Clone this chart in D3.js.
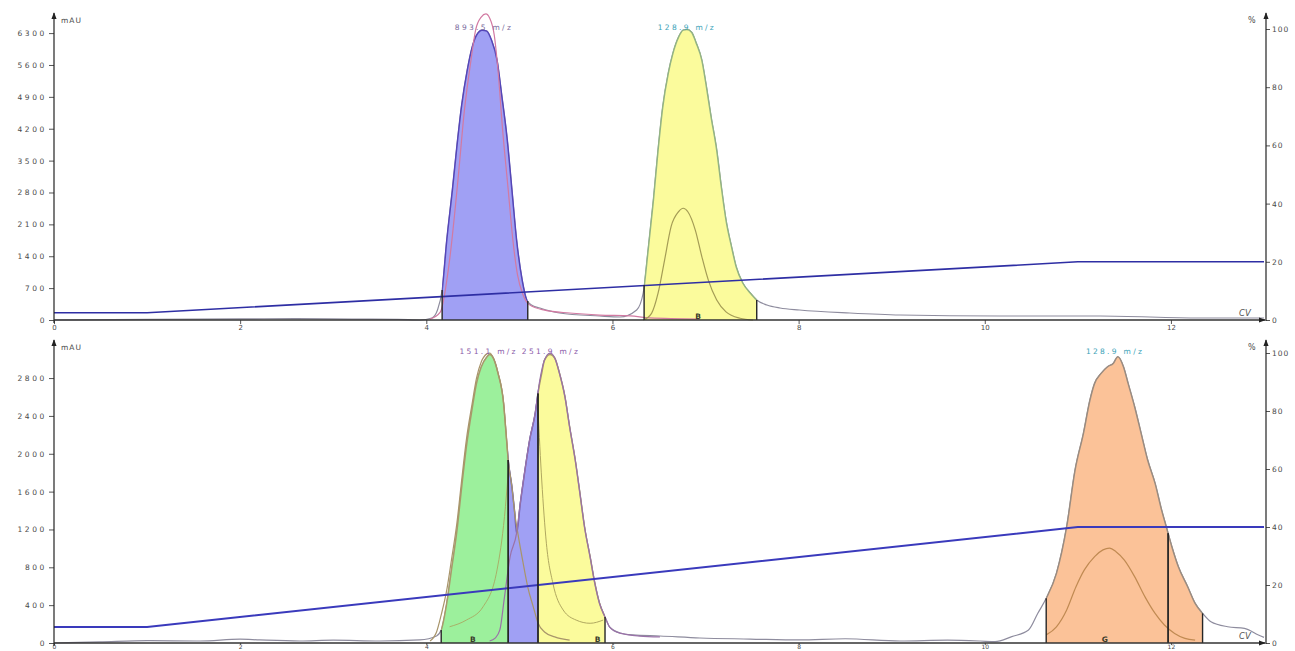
<!DOCTYPE html>
<html>
<head>
<meta charset="utf-8">
<script src="https://d3js.org/d3.v7.min.js"></script>
<style>
  body { margin: 0; background: #fff; }
  svg text { font-family: "DejaVu Sans", sans-serif; }
</style>
</head>
<body>
<svg id="chart" width="1295" height="651"></svg>
<script>
// shared time axis (min)
const xTicks = [0, 2, 4, 6, 8, 10, 12];
const pctTicks = [0, 20, 40, 60, 80, 100];

// ---------- top run ----------
const topMauTicks = [0, 700, 1400, 2100, 2800, 3500, 4200, 4900, 5600, 6300];
// UV trace, [min, mAU]
const topUV = [[0,0],[1.0,15],[2.0,25],[2.6,30],[3.2,20],[3.7,15],[3.93,0],[4.06,44],[4.12,220],[4.17,658],
  [4.22,1756],[4.28,2853],[4.33,3841],[4.38,4719],[4.44,5487],[4.49,5970],[4.54,6255],[4.60,6365],[4.65,6343],
  [4.70,6146],[4.76,5707],[4.81,4939],[4.87,3951],[4.92,2853],[4.97,1756],[5.03,878],[5.08,439],[5.13,329],
  [5.22,263],[5.43,154],[5.86,88],[6.08,66],[6.26,220],[6.33,593],[6.38,1471],[6.44,2634],[6.49,3731],[6.54,4675],
  [6.60,5421],[6.65,5860],[6.71,6211],[6.76,6365],[6.80,6380],[6.85,6321],[6.90,6080],[6.96,5707],[7.01,5114],
  [7.06,4456],[7.12,3731],[7.17,2919],[7.22,2195],[7.28,1602],[7.33,1163],[7.40,812],[7.48,593],[7.55,439],
  [7.66,329],[7.80,263],[8.01,220],[8.55,154],[9.09,110],[10.16,88],[11.24,88],[12.31,44],[13,44]];
// 893.5 m/z trace, [min, %]
const topMs893 = [[4.04,0.3],[4.15,2.7],[4.25,20.6],[4.34,48.1],[4.41,72.2],[4.48,89.3],[4.53,99.7],[4.59,104.1],
  [4.64,105.2],[4.68,103.8],[4.73,97.9],[4.77,85.9],[4.82,65.3],[4.88,44.7],[4.93,27.5],[4.98,15.5],[5.04,8.6],
  [5.11,5.2],[5.27,3.4],[5.54,2.4],[5.86,1.7],[6.19,1.4],[6.40,0.7],[6.94,0.3]];
// second trace under the 128.9 peak, [min, %]
const topInner = [[6.33,0],[6.42,2.3],[6.49,9.2],[6.56,20.6],[6.63,32.1],[6.71,37.2],[6.76,38.4],[6.81,37.2],
  [6.89,30.9],[6.96,21.8],[7.03,13.7],[7.12,6.9],[7.22,2.8],[7.37,0.6],[7.51,0]];
const topGradient = [[0,2.5],[1,2.5],[11,20],[13,20]];
const topFractions = [[4.17,5.09],[6.34,7.55]];
const topMzLabels = ["893.5 m/z", "128.9 m/z"];
const topMzAt = [4.62, 6.80];
const topMarks = ["B"];
const topMarkAt = [6.92];

// ---------- bottom run ----------
const botMauTicks = [0, 400, 800, 1200, 1600, 2000, 2400, 2800];
const botUV = [[0,0],[0.49,11],[1.0,25],[1.57,21],[2.0,40],[2.21,32],[2.64,21],[3.0,30],[3.5,21],[3.93,32],
  [4.11,74],[4.16,137],[4.22,423],[4.27,771],[4.33,1194],[4.38,1648],[4.43,2071],[4.49,2462],[4.54,2747],
  [4.59,2916],[4.65,3022],[4.68,3050],[4.72,3011],[4.77,2853],[4.83,2536],[4.86,2177],[4.88,1934],[4.92,1648],
  [4.95,1374],[4.97,1159],[5.01,1476],[5.06,1828],[5.11,2145],[5.17,2427],[5.20,2638],[5.24,2850],[5.27,2990],
  [5.33,3050],[5.38,3011],[5.43,2853],[5.49,2599],[5.54,2282],[5.60,1934],[5.65,1585],[5.70,1226],[5.76,909],
  [5.81,634],[5.86,423],[5.92,275],[5.97,169],[6.08,106],[6.22,85],[6.51,74],[6.94,53],[7.48,42],[8.01,32],
  [8.5,45],[9.09,21],[9.6,30],[9.95,21],[10.11,14],[10.29,67],[10.47,137],[10.57,314],[10.66,472],[10.77,736],
  [10.88,1229],[10.97,1828],[11.06,2216],[11.13,2568],[11.18,2744],[11.25,2850],[11.32,2920],[11.38,2955],
  [11.43,3025],[11.49,2920],[11.54,2744],[11.61,2497],[11.68,2216],[11.75,1934],[11.83,1687],[11.90,1405],
  [11.95,1229],[12.01,1018],[12.08,806],[12.18,595],[12.26,419],[12.34,314],[12.43,225],[12.61,172],
  [12.79,155],[12.94,85],[13,60]];
const botMs151 = [[4.04,0.7],[4.11,3.8],[4.16,9.7],[4.22,18.3],[4.27,28.6],[4.33,41.7],[4.38,56.2],[4.43,70.0],
  [4.49,82.1],[4.54,91.4],[4.59,96.9],[4.65,99.7],[4.68,100],[4.72,98.3],[4.77,93.1],[4.83,82.8],[4.86,71.0],
  [4.88,63.1],[4.92,53.8],[4.95,44.8],[4.99,36.6],[5.04,27.6],[5.09,19.3],[5.15,12.4],[5.20,6.9],[5.27,3.8],
  [5.38,2.1],[5.54,1.0]];
const botMs251 = [[4.68,0.7],[4.74,1.7],[4.79,4.5],[4.84,15.9],[4.90,29.7],[4.97,37.9],[5.01,48.3],[5.06,59.7],
  [5.11,70.0],[5.17,79.3],[5.22,90.7],[5.27,97.6],[5.33,100],[5.38,98.3],[5.43,93.1],[5.49,84.8],[5.54,74.5],
  [5.60,63.1],[5.65,51.7],[5.70,40.0],[5.76,29.7],[5.81,20.7],[5.86,13.8],[5.92,9.0],[5.97,5.5],[6.08,3.4],
  [6.29,2.4],[6.51,2.1]];
const botInnerA = [[4.25,5.6],[4.43,7.9],[4.61,12.5],[4.76,25.2],[4.84,43.6],[4.88,58.5]];
const botInnerB = [[5.20,80.3],[5.24,56.2],[5.29,34.4],[5.36,20.6],[5.47,11.4],[5.61,7.9],[5.76,6.8],[5.90,7.9]];
const botInnerC = [[10.66,2.8],[10.77,5.6],[10.88,11.4],[10.98,19.4],[11.07,25.2],[11.18,29.8],[11.27,32.1],
  [11.34,32.7],[11.41,31.5],[11.50,28.6],[11.61,22.9],[11.72,16.0],[11.83,10.2],[11.93,6.2],[12.04,3.3],
  [12.15,1.6],[12.26,1.0]];
const botGradient = [[0,5.5],[1,5.5],[11,40],[13,40]];
const botFractions = [[4.16,4.88],[4.88,5.20],[5.20,5.92],[10.66,11.97],[11.97,12.34]];
const botMzLabels = ["151.1 m/z", "251.9 m/z", "128.9 m/z"];
const botMzAt = [4.67, 5.34, 11.40];
const botMarks = ["B", "B", "G"];
const botMarkAt = [4.50, 5.84, 11.29];

// ---------- drawing ----------
const svg = d3.select("#chart");
svg.append("rect").attr("width", 1295).attr("height", 651).attr("fill", "#fff");
const defs = svg.append("defs");
defs.append("marker").attr("id", "arrow").attr("viewBox", "0 0 8 8")
  .attr("refX", 7).attr("refY", 4).attr("markerWidth", 7).attr("markerHeight", 7)
  .attr("markerUnits", "userSpaceOnUse").attr("orient", "auto")
  .append("path").attr("d", "M0,1 L8,4 L0,7 Z").attr("fill", "#222");

const x = d3.scaleLinear().domain([0, 13]).range([54, 1264]);
const xRight = 1266;

function valueAt(data, t) {
  const i = d3.bisector(d => d[0]).left(data, t);
  if (i <= 0) return data[0][1];
  if (i >= data.length) return data[data.length - 1][1];
  const a = data[i - 1], b = data[i];
  return a[1] + (b[1] - a[1]) * (t - a[0]) / (b[0] - a[0]);
}

function drawPanel(p) {
  const g = svg.append("g");
  const yL = d3.scaleLinear().domain([0, p.mauMax]).range([p.y0, p.y100]);
  const yR = d3.scaleLinear().domain([0, 100]).range([p.y0, p.y100]);

  const lineL = d3.line().x(d => x(d[0])).y(d => yL(d[1])).curve(d3.curveMonotoneX);
  const lineR = d3.line().x(d => x(d[0])).y(d => yR(d[1])).curve(d3.curveMonotoneX);
  const areaL = d3.area().x(d => x(d[0])).y0(p.y0).y1(d => yL(d[1])).curve(d3.curveMonotoneX);

  // uv trace (grey) under everything
  g.append("path").datum(p.uv).attr("d", lineL)
    .attr("fill", "none").attr("stroke", "#8e8c9e").attr("stroke-width", 1.2);

  // collected fractions
  p.fractions.forEach((f, i) => {
    const id = "clip-" + p.id + "-" + i;
    defs.append("clipPath").attr("id", id).append("rect")
      .attr("x", x(f[0])).attr("y", 0)
      .attr("width", x(f[1]) - x(f[0])).attr("height", p.y0 + 0.5);
    g.append("path").datum(p.uv).attr("d", areaL)
      .attr("fill", p.fills[i]).attr("clip-path", "url(#" + id + ")");
    g.append("path").datum(p.uv).attr("d", lineL)
      .attr("fill", "none").attr("stroke", p.edges[i]).attr("stroke-width", 1.5)
      .attr("clip-path", "url(#" + id + ")");
  });

  // mass traces
  p.ms.forEach((s, i) => {
    g.append("path").datum(s).attr("d", lineR)
      .attr("fill", "none").attr("stroke", p.msColors[i]).attr("stroke-width", p.msWidths[i]);
  });

  // solvent gradient
  g.append("path").datum(p.gradient).attr("d", d3.line().x(d => x(d[0])).y(d => yR(d[1])))
    .attr("fill", "none").attr("stroke", p.gradColor).attr("stroke-width", p.gradWidth);

  // fraction boundaries
  p.fractions.forEach(f => {
    f.forEach(t => {
      g.append("line").attr("x1", x(t)).attr("x2", x(t))
        .attr("y1", p.y0).attr("y2", yL(valueAt(p.uv, t)))
        .attr("stroke", "#262626").attr("stroke-width", 1.4);
    });
  });

  // tube markers
  p.marks.forEach((m, i) => {
    g.append("text").attr("x", x(p.markAt[i])).attr("y", p.y0 - 1.5)
      .attr("text-anchor", "middle").attr("font-size", 7.5).attr("font-weight", "bold")
      .attr("fill", "#3a3a2a").text(m);
  });

  // m/z labels
  p.mzLabels.forEach((m, i) => {
    g.append("text").attr("x", x(p.mzAt[i])).attr("y", p.y100 + 1)
      .attr("text-anchor", "middle").attr("font-size", 7.5).attr("letter-spacing", 2.3)
      .attr("fill", p.mzColors[i]).text(m);
  });

  // axes
  const axL = g.append("g").attr("transform", "translate(" + x(0) + ",0)")
    .call(d3.axisLeft(yL).tickValues(p.mauTicks).tickSize(5).tickPadding(2).tickFormat(d3.format("d")));
  axL.select(".domain").remove();
  axL.attr("font-family", "DejaVu Sans");
  axL.selectAll("text").attr("font-size", 7.5).attr("letter-spacing", 2.6).attr("fill", "#4a4a4a");
  axL.selectAll("line").attr("stroke", "#555");

  const axR = g.append("g").attr("transform", "translate(" + xRight + ",0)")
    .call(d3.axisRight(yR).tickValues(pctTicks).tickSize(4).tickPadding(2).tickFormat(d3.format("d")));
  axR.select(".domain").remove();
  axR.attr("font-family", "DejaVu Sans");
  axR.selectAll("text").attr("font-size", 7.5).attr("letter-spacing", 1).attr("fill", "#4a4a4a");
  axR.selectAll("line").attr("stroke", "#555");

  const axB = g.append("g").attr("transform", "translate(0," + p.y0 + ")")
    .call(d3.axisBottom(x).tickValues(xTicks).tickSize(p.xTick).tickPadding(p.xPad).tickFormat(d3.format("d")));
  axB.select(".domain").remove();
  axB.attr("font-family", "DejaVu Sans");
  axB.selectAll("text").attr("font-size", p.xFont).attr("fill", "#4a4a4a");
  axB.selectAll("line").attr("stroke", "#555");

  g.append("line").attr("x1", x(0)).attr("x2", x(0)).attr("y1", p.y0 + 3).attr("y2", p.top)
    .attr("stroke", "#222").attr("stroke-width", 1.2).attr("marker-end", "url(#arrow)");
  g.append("line").attr("x1", xRight).attr("x2", xRight).attr("y1", p.y0 + 1).attr("y2", p.top)
    .attr("stroke", "#222").attr("stroke-width", 1.2).attr("marker-end", "url(#arrow)");
  g.append("line").attr("x1", x(0)).attr("x2", xRight - 1).attr("y1", p.y0).attr("y2", p.y0)
    .attr("stroke", "#333").attr("stroke-width", 1.4).attr("marker-end", "url(#arrow)");

  g.append("text").attr("x", x(0) + 7).attr("y", p.top + 10).attr("font-size", 7.5)
    .attr("letter-spacing", 1).attr("fill", "#4a4a4a").text("mAU");
  g.append("text").attr("x", xRight - 18).attr("y", p.top + 10).attr("font-size", 8)
    .attr("fill", "#4a4a4a").text("%");
  g.append("text").attr("x", xRight - 27).attr("y", p.y0 - 4).attr("font-size", 8.5)
    .attr("font-style", "italic").attr("fill", "#555").text("CV");
}

drawPanel({
  id: "top", y0: 320, y100: 29, top: 13, mauMax: 6390, mauTicks: topMauTicks,
  xTick: 4, xPad: 1, xFont: 7,
  uv: topUV, fractions: topFractions,
  fills: ["#a0a0f4", "#fbfb9c"], edges: ["#5546b8", "#93b483"],
  ms: [topMs893, topInner], msColors: ["#d27aa2", "#a49c55"], msWidths: [1.2, 1.2],
  gradient: topGradient, gradColor: "#2e2ea4", gradWidth: 1.6,
  mzLabels: topMzLabels, mzAt: topMzAt, mzColors: ["#7a6a9c", "#3aa2b8"],
  marks: topMarks, markAt: topMarkAt
});

drawPanel({
  id: "bot", y0: 643, y100: 353, top: 340, mauMax: 3065, mauTicks: botMauTicks,
  xTick: 2, xPad: 0, xFont: 6,
  uv: botUV, fractions: botFractions,
  fills: ["#9cf09c", "#a0a0f4", "#fbfb9c", "#fbc298", "#fbc298"],
  edges: ["#a89a6a", "#6f62b4", "#a89a6a", "#9a8c80", "#9a8c80"],
  ms: [botMs151, botMs251, botInnerA, botInnerB, botInnerC],
  msColors: ["#a8956a", "#9a72a8", "#a8b068", "#b0a860", "#c08a52"],
  msWidths: [1.2, 1.2, 1, 1, 1.2],
  gradient: botGradient, gradColor: "#3a3abc", gradWidth: 2,
  mzLabels: botMzLabels, mzAt: botMzAt, mzColors: ["#8a5aa8", "#8a5aa8", "#3aa2b8"],
  marks: botMarks, markAt: botMarkAt
});
</script>
</body>
</html>
